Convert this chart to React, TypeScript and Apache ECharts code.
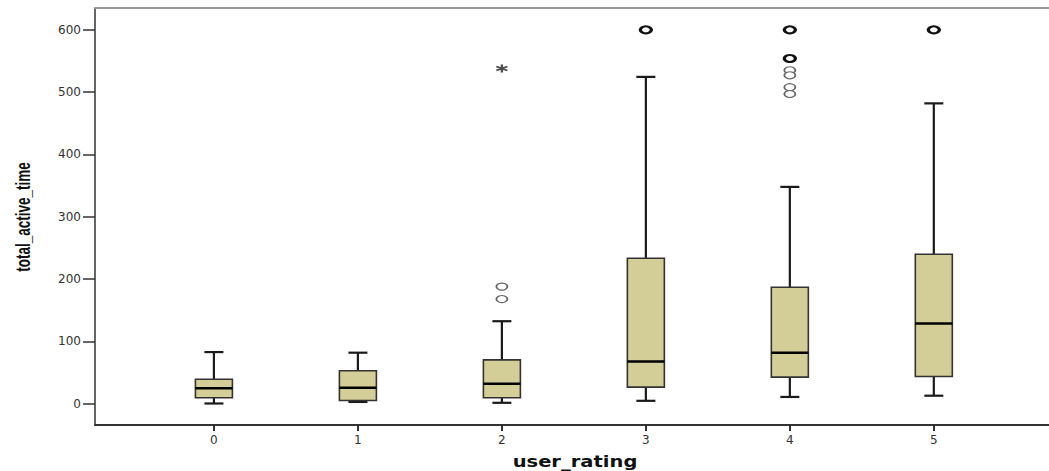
import React, { useEffect, useRef } from 'react';
import * as echarts from 'echarts';

// ---- data ----
const categories = ['0', '1', '2', '3', '4', '5'];
const whiskerMin = [0.5, 3, 1.6, 4.8, 11, 13];
const q1 = [9.6, 5.3, 9.6, 26.7, 42.8, 43.8];
const median = [25, 25.6, 32, 67.8, 82, 129];
const q3 = [39.5, 53, 70.5, 233.5, 187, 240];
const whiskerMax = [83, 82, 132.5, 524.5, 348, 482];
const outliers: [number, number][] = [
  [2, 188], [2, 168], [4, 535], [4, 527], [4, 508], [4, 497],
];
const repeatedOutliers: [number, number][] = [[3, 600], [4, 600], [4, 554], [5, 600]];
const extremes: [number, number][] = [[2, 538]];
const yTicks = [0, 100, 200, 300, 400, 500, 600];
const xTicks = [0, 1, 2, 3, 4, 5];
const xTitle = 'user_rating';
const yTitle = 'total_active_time';

const BOX_FILL = '#d3cd97';

export default function App() {
  const ref = useRef<HTMLDivElement>(null);
  useEffect(() => {
    if (!ref.current) return;
    const chart = echarts.init(ref.current, null, { renderer: 'svg' });
    const boxData = categories.map((_, i) => [i, whiskerMin[i], q1[i], median[i], q3[i], whiskerMax[i]]);
    const option: any = {
      animation: false,
      backgroundColor: '#ffffff',
      grid: { left: 95, right: 0, top: 8, bottom: 46, containLabel: false, outerBoundsMode: 'none' },
      graphic: [
        {
          type: 'text',
          x: 575,
          y: 461,
          scaleX: 1.22,
          style: {
            text: xTitle,
            font: 'bold 16px "DejaVu Sans"',
            fill: '#111',
            textAlign: 'center',
            textVerticalAlign: 'middle',
          },
        },
        {
          type: 'text',
          x: 23,
          y: 217,
          rotation: Math.PI / 2,
          scaleX: 0.9,
          scaleY: 1.35,
          style: {
            text: yTitle,
            font: 'bold 15px "Liberation Sans"',
            fill: '#111',
            textAlign: 'center',
            textVerticalAlign: 'middle',
          },
        },
      ],
      xAxis: [
        {
          type: 'value',
          min: -0.826,
          max: 5.8,
          position: 'bottom',
          axisLine: { show: true, onZero: false, lineStyle: { color: '#333', width: 2 } },
          axisTick: { show: true, length: 6, customValues: xTicks, lineStyle: { color: '#333', width: 2 } },
          axisLabel: {
            customValues: xTicks,
            margin: 9,
            fontFamily: 'DejaVu Sans',
            fontSize: 12,
            color: '#333',
            formatter: (v: number) => categories[Math.round(v)] ?? '',
          },
          splitLine: { show: false },
        },
        {
          type: 'value',
          min: -0.826,
          max: 5.8,
          position: 'top',
          axisLine: { show: true, onZero: false, lineStyle: { color: '#999', width: 2 } },
          axisTick: { show: false },
          axisLabel: { show: false },
          splitLine: { show: false },
        },
      ],
      yAxis: {
        type: 'value',
        min: -34,
        max: 635,
        axisLine: { show: true, onZero: false, lineStyle: { color: '#333', width: 1.5 } },
        axisTick: { show: true, length: 12, customValues: yTicks, lineStyle: { color: '#333', width: 1.5 } },
        axisLabel: {
          customValues: yTicks,
          margin: 14,
          fontFamily: 'DejaVu Sans',
          fontSize: 12,
          color: '#333',
        },
        splitLine: { show: false },
      },
      series: [
        {
          type: 'custom',
          name: 'box',
          xAxisIndex: 0,
          encode: { x: 0, y: [1, 2, 3, 4, 5] },
          data: boxData,
          renderItem: (params: any, api: any) => {
            const x = api.value(0);
            const pMin = api.coord([x, api.value(1)]);
            const pQ1 = api.coord([x, api.value(2)]);
            const pMed = api.coord([x, api.value(3)]);
            const pQ3 = api.coord([x, api.value(4)]);
            const pMax = api.coord([x, api.value(5)]);
            const cx = pMin[0];
            const hb = 18.5;
            const hc = 9.5;
            const ls = { stroke: '#1a1a1a', lineWidth: 2.2 };
            return {
              type: 'group',
              children: [
                { type: 'line', shape: { x1: cx, y1: pQ3[1], x2: cx, y2: pMax[1] }, style: ls },
                { type: 'line', shape: { x1: cx, y1: pMin[1], x2: cx, y2: pQ1[1] }, style: ls },
                { type: 'line', shape: { x1: cx - hc, y1: pMax[1], x2: cx + hc, y2: pMax[1] }, style: ls },
                { type: 'line', shape: { x1: cx - hc, y1: pMin[1], x2: cx + hc, y2: pMin[1] }, style: ls },
                {
                  type: 'rect',
                  shape: { x: cx - hb, y: pQ3[1], width: hb * 2, height: pQ1[1] - pQ3[1] },
                  style: { fill: BOX_FILL, stroke: '#333', lineWidth: 1.6 },
                },
                {
                  type: 'line',
                  shape: { x1: cx - hb, y1: pMed[1], x2: cx + hb, y2: pMed[1] },
                  style: { stroke: '#000', lineWidth: 2.5 },
                },
              ],
            };
          },
          z: 2,
        },
        {
          type: 'scatter',
          name: 'outliers',
          data: outliers,
          symbol: 'circle',
          symbolSize: [11, 7],
          itemStyle: { color: '#ffffff', borderColor: '#666', borderWidth: 1.4, opacity: 1 },
          z: 3,
        },
        {
          type: 'scatter',
          name: 'repeated outliers',
          data: repeatedOutliers,
          symbol: 'circle',
          symbolSize: [11, 7],
          itemStyle: { color: '#ffffff', borderColor: '#111', borderWidth: 2.6, opacity: 1 },
          z: 3,
        },
        {
          type: 'scatter',
          name: 'extremes',
          data: extremes,
          symbol: 'path://M5,0 L5,10 M0.67,2.5 L9.33,7.5 M0.67,7.5 L9.33,2.5',
          symbolSize: [11, 8],
          itemStyle: { color: 'none', borderColor: '#222', borderWidth: 2 },
          z: 3,
        },
      ],
    };
    chart.setOption(option);
    return () => chart.dispose();
  }, []);
  return (
    <div
      ref={ref}
      style={{ position: 'fixed', left: 0, top: 0, width: 1049, height: 471, background: '#fff' }}
    />
  );
}
